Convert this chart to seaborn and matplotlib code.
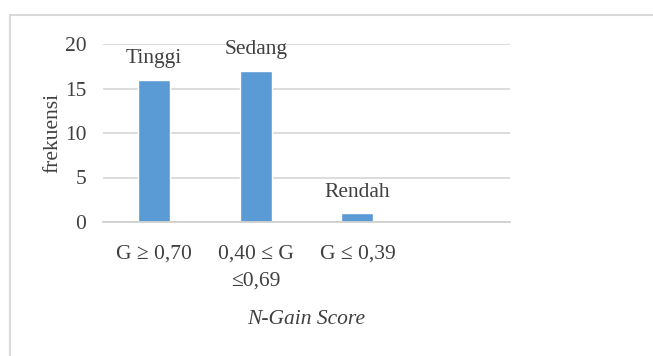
import matplotlib
matplotlib.use("Agg")
import matplotlib.pyplot as plt
from matplotlib.patches import Rectangle
import seaborn as sns
import pandas as pd

# N-Gain categories, their frequencies and the level names shown above the bars
categories = ["G \u2265 0,70", "0,40 \u2264 G\n\u22640,69", "G \u2264 0,39"]
frequencies = [16, 17, 1]
levels = ["Tinggi", "Sedang", "Rendah"]
y_ticks = [0, 5, 10, 15, 20]

sns.set_theme(style="white")
plt.rcParams["font.family"] = ["Liberation Serif", "DejaVu Serif"]
plt.rcParams["text.color"] = "#404040"

FS = 15.5
W, H, DPI = 653, 356, 100
fig = plt.figure(figsize=(W / DPI, H / DPI), dpi=DPI)
fig.patch.set_facecolor("white")

# light frame of the chart area
fig.patches.append(Rectangle((10 / W, -0.2), 1.2, 1 - 15 / H + 0.2,
                             transform=fig.transFigure, fill=False,
                             edgecolor="#d9d9d9", linewidth=1.5))

ax = fig.add_axes([103 / W, 1 - 222 / H, (510 - 103) / W, (222 - 44) / H])

df = pd.DataFrame({"kategori": categories, "frekuensi": frequencies})
sns.barplot(data=df, x="kategori", y="frekuensi", color="#5b9bd5",
            saturation=1, width=0.315, ax=ax, zorder=3)

ax.set_xlim(-0.5, 3.5)
ax.set_ylim(0, 20)
ax.set_yticks(y_ticks)
ax.set_yticklabels([str(v) for v in y_ticks])

ax.yaxis.grid(True, color="#d9d9d9", linewidth=1.3, zorder=0)
ax.xaxis.grid(False)
for side in ["left", "right", "top"]:
    ax.spines[side].set_visible(False)
ax.spines["bottom"].set_color("#d0d0d0")
ax.spines["bottom"].set_linewidth(1.3)
ax.spines["bottom"].set_zorder(4)

# tick marks on category boundaries
ax.set_xticks([-0.5, 0.5, 1.5, 2.5, 3.5], minor=True)
ax.tick_params(axis="x", which="minor", length=5, width=1.3,
               color="#d0d0d0", direction="out")
ax.tick_params(axis="x", which="major", length=0, pad=16,
               labelsize=FS, labelcolor="#404040")
ax.tick_params(axis="y", length=0, pad=12, labelsize=FS,
               labelcolor="#404040")
for t in ax.get_xticklabels():
    t.set_linespacing(1.6)

for i, (v, lab) in enumerate(zip(frequencies, levels)):
    ax.annotate(lab, (i, v), xytext=(0, 15), textcoords="offset points",
                ha="center", va="center", fontsize=FS, color="#404040")

ax.set_xlabel("N-Gain Score", fontsize=FS, style="italic",
              color="#404040", labelpad=14)
ax.set_ylabel("frekuensi", fontsize=FS, color="#404040", labelpad=2)

fig.savefig("out.png", dpi=DPI, facecolor="white")
